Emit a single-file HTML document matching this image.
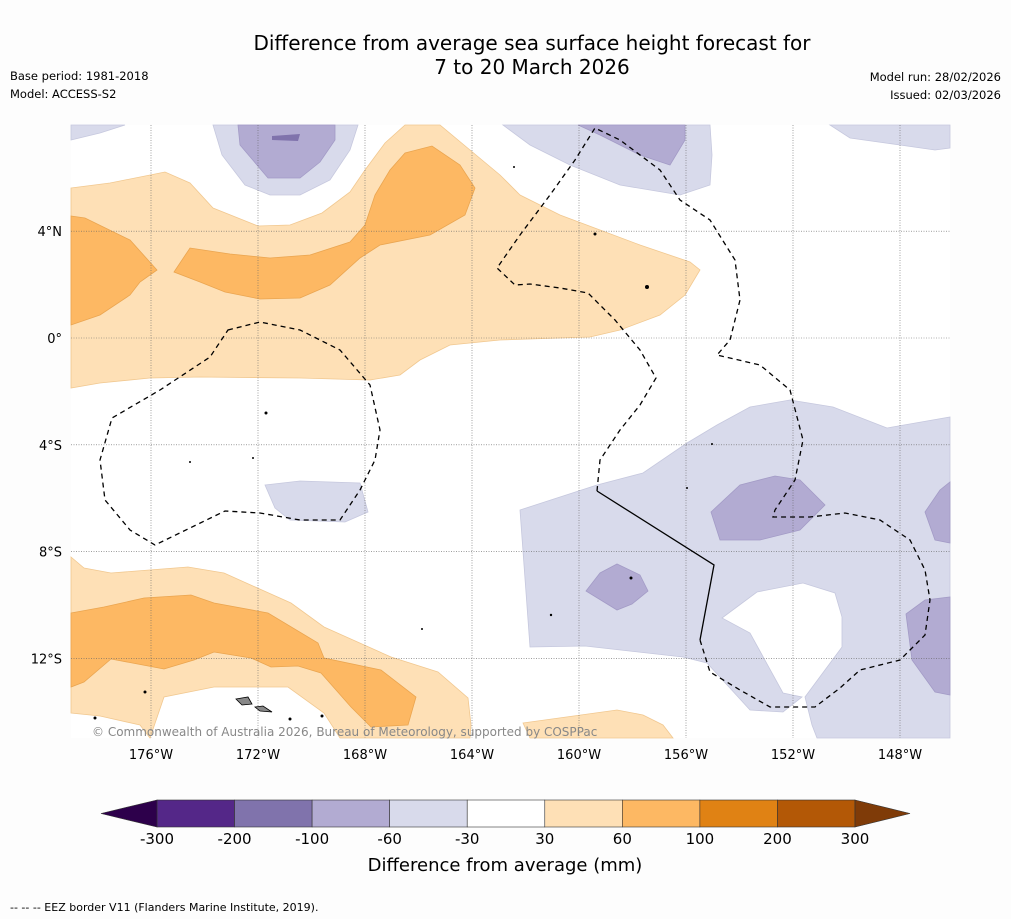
<!DOCTYPE html>
<html><head><meta charset="utf-8"><style>
body{margin:0;background:#fff;width:1011px;height:919px;overflow:hidden;font-family:"Liberation Sans","DejaVu Sans",sans-serif}
</style></head><body>
<svg width="1011" height="919" xmlns="http://www.w3.org/2000/svg" font-family="DejaVu Sans, Liberation Sans, sans-serif">
<rect width="1011" height="919" fill="#fdfdfd"/>
<text x="532" y="50" font-size="20" text-anchor="middle">Difference from average sea surface height forecast for</text>
<text x="532" y="74" font-size="20" text-anchor="middle">7 to 20 March 2026</text>
<text x="10" y="80" font-size="11.5">Base period: 1981-2018</text>
<text x="10" y="98" font-size="11.5">Model: ACCESS-S2</text>
<text x="1001" y="81" font-size="11.5" text-anchor="end">Model run: 28/02/2026</text>
<text x="1001" y="99" font-size="11.5" text-anchor="end">Issued: 02/03/2026</text>
<g>
<rect x="71" y="125" width="879" height="613" fill="#fff"/>
<g stroke-width="0.8">
<path fill="#fee0b6" stroke="#f1c890" d="M71,188 L110,183 165,172 190,183 213,208 258,226 290,225 322,213 350,192 365,170 385,143 405,125 440,125 470,150 500,175 520,195 560,215 600,230 640,245 690,262 700,270 685,295 660,315 620,330 590,337 500,340 450,345 420,360 400,375 370,380 300,378 200,377 150,378 100,383 71,388Z"/>
<path fill="#fdb863" stroke="#eaa550" d="M71,216 L85,218 130,240 157,270 140,282 130,295 100,315 71,325Z"/>
<path fill="#fdb863" stroke="#eaa550" d="M174,272 L190,248 230,254 270,258 310,255 350,242 365,225 375,195 390,170 405,153 432,146 460,165 475,188 465,215 430,235 380,245 360,258 330,285 300,298 260,299 225,292 200,282Z"/>
<path fill="#fee0b6" stroke="#f1c890" d="M71,557 L84,568 111,573 188,567 224,573 291,603 324,627 391,657 438,672 468,698 471,725 470,738 340,738 324,713 288,687 214,687 164,697 150,738 140,725 100,716 71,713Z"/>
<path fill="#fdb863" stroke="#eaa550" d="M71,613 L104,607 144,598 191,595 214,603 268,613 318,643 324,658 381,670 416,697 408,725 371,727 351,707 321,673 298,666 271,667 251,658 214,652 194,660 164,669 111,659 84,682 71,687Z"/>
<path fill="#fee0b6" stroke="#f1c890" d="M523,723 L617,710 643,715 663,725 673,738 530,738Z"/>
<path fill="#d8daeb" stroke="#c6c8de" d="M71,125 L125,125 100,133 71,140Z"/>
<path fill="#d8daeb" stroke="#c6c8de" d="M213,125 L222,155 245,185 270,195 300,195 330,180 350,150 358,125Z"/>
<path fill="#b2abd2" stroke="#a39bc6" d="M238,125 L240,145 268,178 300,178 320,162 335,140 335,125Z"/>
<path fill="#8073ac" d="M272,136 L300,134 298,141 272,140Z"/>
<path fill="#d8daeb" stroke="#c6c8de" d="M503,125 L530,145 570,165 620,185 680,195 710,185 712,155 710,125Z"/>
<path fill="#b2abd2" stroke="#a39bc6" d="M578,125 L600,135 640,155 670,165 685,140 685,125Z"/>
<path fill="#d8daeb" stroke="#c6c8de" d="M830,125 L850,138 900,145 935,150 950,148 950,125Z"/>
<path fill="#d8daeb" stroke="#c6c8de" d="M265,485 L300,481 360,483 368,512 345,522 290,520 275,508Z"/>
<path fill="#d8daeb" stroke="#c6c8de" d="M520,510 L597,485 643,473 687,443 717,425 750,407 790,400 833,407 887,428 950,417 950,738 817,738 812,725 805,697 842,647 842,617 835,593 803,583 757,592 722,618 750,633 783,693 802,697 783,712 750,710 707,663 683,657 585,646 530,647Z"/>
<path fill="#b2abd2" stroke="#a39bc6" d="M711,512 L740,485 775,476 800,480 825,505 800,530 760,540 720,540Z"/>
<path fill="#b2abd2" stroke="#a39bc6" d="M586,591 L600,573 617,564 640,575 648,591 632,604 617,610Z"/>
<path fill="#b2abd2" stroke="#a39bc6" d="M925,512 L940,490 950,482 950,543 935,540Z"/>
<path fill="#b2abd2" stroke="#a39bc6" d="M906,614 L925,600 950,597 950,695 935,692 912,660Z"/>
</g>
<g id="grid" stroke="#666" stroke-width="0.6" stroke-dasharray="1,1.5"></g>
<g fill="#000">
<circle cx="266" cy="413" r="1.5"/><circle cx="190" cy="462" r="1"/><circle cx="253" cy="458" r="1"/><circle cx="595" cy="234" r="1.5"/><circle cx="647" cy="287" r="2"/><circle cx="514" cy="167" r="1"/><circle cx="145" cy="692" r="1.5"/><circle cx="551" cy="615" r="1.2"/><circle cx="687" cy="488" r="1"/><circle cx="712" cy="444" r="1"/><circle cx="631" cy="578" r="1.5"/><circle cx="422" cy="629" r="1"/><circle cx="95" cy="718" r="1.5"/><circle cx="290" cy="719" r="1.5"/><circle cx="322" cy="716" r="1.5"/>
<path d="M236,699 L248,697 252,704 242,705Z" fill="#888" stroke="#000" stroke-width="0.8"/>
<path d="M255,707 L263,706 272,712 260,711Z" fill="#888" stroke="#000" stroke-width="0.8"/>
</g>
<g fill="none" stroke="#000" stroke-width="1.3">
<path stroke-dasharray="5,4" d="M228,330 L260,322 300,330 340,350 370,385 380,430 375,460 360,490 340,520 300,520 260,513 225,511 190,528 155,545 130,530 105,500 100,460 112,418 160,390 210,357Z"/>
<path stroke-dasharray="5,4" d="M597,491 L600,460 620,430 640,405 656,378 640,350 615,320 588,293 560,288 530,284 515,285 497,268 520,235 550,195 575,160 595,128 620,140 660,170 680,200 710,220 735,260 740,300 730,340 717,355 760,365 790,390 803,440 795,480 775,510 773,517 810,517 845,513 880,520 910,540 925,570 930,600 925,635 900,660 860,670 840,688 815,707 770,707 740,690 710,672 700,640"/>
<path d="M597,491 L714,565 700,640"/>
</g>
<text x="92" y="736" font-size="12" fill="#888">© Commonwealth of Australia 2026, Bureau of Meteorology, supported by COSPPac</text>
</g>
<g id="axes" font-size="13"></g>
<g id="cbar"></g>
<text x="505" y="871" font-size="18" text-anchor="middle">Difference from average (mm)</text>
<text x="10" y="911" font-size="11">--  --  -- EEZ border V11 (Flanders Marine Institute, 2019).</text>
</svg>
<script>
const lonTicks=[176,172,168,164,160,156,152,148];
const latTicks=[4,0,-4,-8,-12];
const levels=[-300,-200,-100,-60,-30,30,60,100,200,300];
const colors=["#542788","#8073ac","#b2abd2","#d8daeb","#ffffff","#fee0b6","#fdb863","#e08214","#b35806"];
const extColors=["#2d004b","#7f3b08"];
const NS="http://www.w3.org/2000/svg";
const X=lw=>151+(176-lw)*26.75;
const Y=lat=>338-lat*26.7;
const grid=document.getElementById('grid'),axes=document.getElementById('axes');
function mk(tag,attrs,parent){const e=document.createElementNS(NS,tag);for(const k in attrs)e.setAttribute(k,attrs[k]);parent.appendChild(e);return e;}
lonTicks.forEach(l=>{
 const x=X(l);
 const ln=mk('line',{x1:x,x2:x,y1:125,y2:738},grid);
 
 
 const t=mk('text',{x:x,y:759,'text-anchor':'middle'},axes);t.textContent=l+'°W';
 
 
});
latTicks.forEach(l=>{
 const y=Y(l);
 const ln=mk('line',{x1:71,x2:950,y1:y,y2:y},grid);
 
 
 const t=mk('text',{x:62,y:y+5,'text-anchor':'end'},axes);t.textContent=l===0?'0°':Math.abs(l)+'°'+(l>0?'N':'S');
 
 
});
const cb=document.getElementById('cbar');
const cx0=157,cx1=855,cy=800,ch=27,n=levels.length-1,w=(cx1-cx0)/n;
for(let i=0;i<n;i++){
 const r=mk('rect',{x:cx0+i*w,y:cy,width:w,height:ch,fill:colors[i],stroke:'#333','stroke-width':0.6},cb);
 
 
}
const t1=mk('path',{d:`M${cx0},${cy} L101,${cy+ch/2} L${cx0},${cy+ch}Z`,fill:extColors[0],stroke:'#333','stroke-width':0.6},cb);


const t2=mk('path',{d:`M${cx1},${cy} L910,${cy+ch/2} L${cx1},${cy+ch}Z`,fill:extColors[1],stroke:'#333','stroke-width':0.6},cb);


levels.forEach((v,i)=>{
 const t=mk('text',{x:cx0+i*w,y:844,'text-anchor':'middle','font-size':15},cb);t.textContent=v;
 
 
});
</script>
</body></html>
